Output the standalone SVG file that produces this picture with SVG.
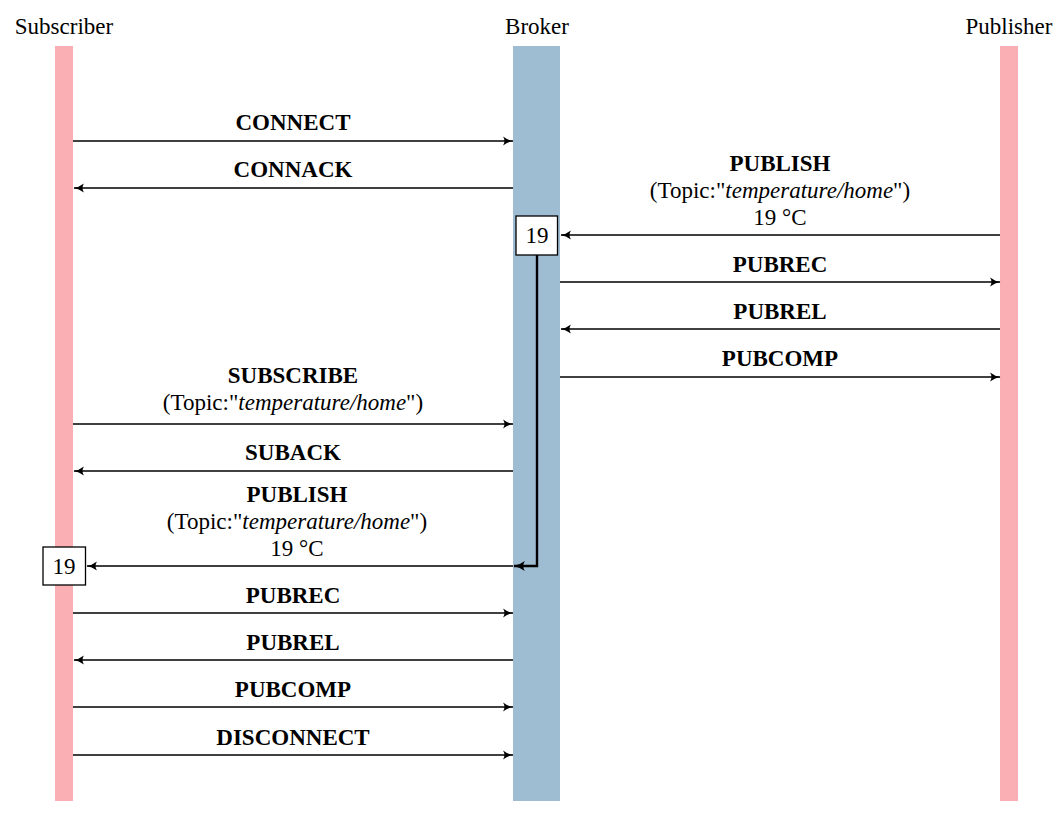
<svg xmlns="http://www.w3.org/2000/svg" width="1064" height="814" viewBox="0 0 1064 814">
<style>
text{font-family:"Liberation Serif","Times New Roman",serif;font-size:23px;fill:#000}
.h{text-anchor:middle}
.b{font-weight:bold}
.m{text-anchor:middle}
.ln{stroke:#000;stroke-width:1.3;fill:none}
.thk{stroke:#000;stroke-width:2.4;fill:none}
.box{fill:#fff;stroke:#000;stroke-width:1.3}
</style>
<defs>
<marker id="ah" viewBox="0 0 10 10" refX="9.5" refY="5" markerWidth="11" markerHeight="11" markerUnits="userSpaceOnUse" orient="auto">
<path d="M0.5,0.8 Q5,4.3 10,5 Q5,5.7 0.5,9.2 Q3,5 0.5,0.8 Z" fill="#000"/>
</marker>
<marker id="ah2" viewBox="0 0 10 10" refX="9.5" refY="5" markerWidth="12" markerHeight="12" markerUnits="userSpaceOnUse" orient="auto">
<path d="M0.5,0.8 Q5,4.3 10,5 Q5,5.7 0.5,9.2 Q3,5 0.5,0.8 Z" fill="#000"/>
</marker>
</defs>
<g id="subscriber">
<rect x="55" y="46" width="18" height="755" fill="#FAAFB4"/>
<text class="h" x="64" y="34">Subscriber</text>
</g>
<g id="broker">
<rect x="513" y="46" width="47" height="755" fill="#9EBCD2"/>
<text class="h" x="537" y="34">Broker</text>
</g>
<g id="publisher">
<rect x="1000" y="46" width="18" height="755" fill="#FAAFB4"/>
<text class="h" x="1009" y="34">Publisher</text>
</g>
<g id="connectors">
<line class="ln" x1="73" y1="141" x2="513" y2="141" marker-end="url(#ah)"/>
<line class="ln" x1="513" y1="188" x2="74" y2="188" marker-end="url(#ah)"/>
<line class="ln" x1="1000" y1="235" x2="561" y2="235" marker-end="url(#ah)"/>
<line class="ln" x1="560" y1="282" x2="1000" y2="282" marker-end="url(#ah)"/>
<line class="ln" x1="1000" y1="329" x2="561" y2="329" marker-end="url(#ah)"/>
<line class="ln" x1="560" y1="377" x2="1000" y2="377" marker-end="url(#ah)"/>
<line class="ln" x1="73" y1="424" x2="513" y2="424" marker-end="url(#ah)"/>
<line class="ln" x1="513" y1="471" x2="74" y2="471" marker-end="url(#ah)"/>
<line class="ln" x1="513" y1="566" x2="87" y2="566" marker-end="url(#ah)"/>
<line class="ln" x1="73" y1="613" x2="513" y2="613" marker-end="url(#ah)"/>
<line class="ln" x1="513" y1="660" x2="74" y2="660" marker-end="url(#ah)"/>
<line class="ln" x1="73" y1="707" x2="513" y2="707" marker-end="url(#ah)"/>
<line class="ln" x1="73" y1="755" x2="513" y2="755" marker-end="url(#ah)"/>
<polyline class="thk" points="537,255 537,566 514,566" marker-end="url(#ah2)"/>
</g>
<g id="labels">
<text class="m b" x="293" y="130">CONNECT</text>
<text class="m b" x="293" y="177">CONNACK</text>
<text class="m b" x="780" y="171">PUBLISH</text>
<text class="m" x="780" y="198">(Topic:"<tspan font-style="italic">temperature/home</tspan>")</text>
<text class="m" x="780" y="225">19 °C</text>
<text class="m b" x="780" y="272">PUBREC</text>
<text class="m b" x="780" y="319">PUBREL</text>
<text class="m b" x="780" y="366">PUBCOMP</text>
<text class="m b" x="293" y="383">SUBSCRIBE</text>
<text class="m" x="293" y="410">(Topic:"<tspan font-style="italic">temperature/home</tspan>")</text>
<text class="m b" x="293" y="460">SUBACK</text>
<text class="m b" x="297" y="502">PUBLISH</text>
<text class="m" x="297" y="529">(Topic:"<tspan font-style="italic">temperature/home</tspan>")</text>
<text class="m" x="297" y="556">19 °C</text>
<text class="m b" x="293" y="603">PUBREC</text>
<text class="m b" x="293" y="650">PUBREL</text>
<text class="m b" x="293" y="697">PUBCOMP</text>
<text class="m b" x="293" y="745">DISCONNECT</text>
</g>
<g id="box-broker">
<rect class="box" x="516" y="216" width="41.5" height="39"/>
<text class="m" x="537" y="243">19</text>
</g>
<g id="box-subscriber">
<rect class="box" x="43" y="547" width="42.5" height="38"/>
<text class="m" x="64" y="574">19</text>
</g>
</svg>
